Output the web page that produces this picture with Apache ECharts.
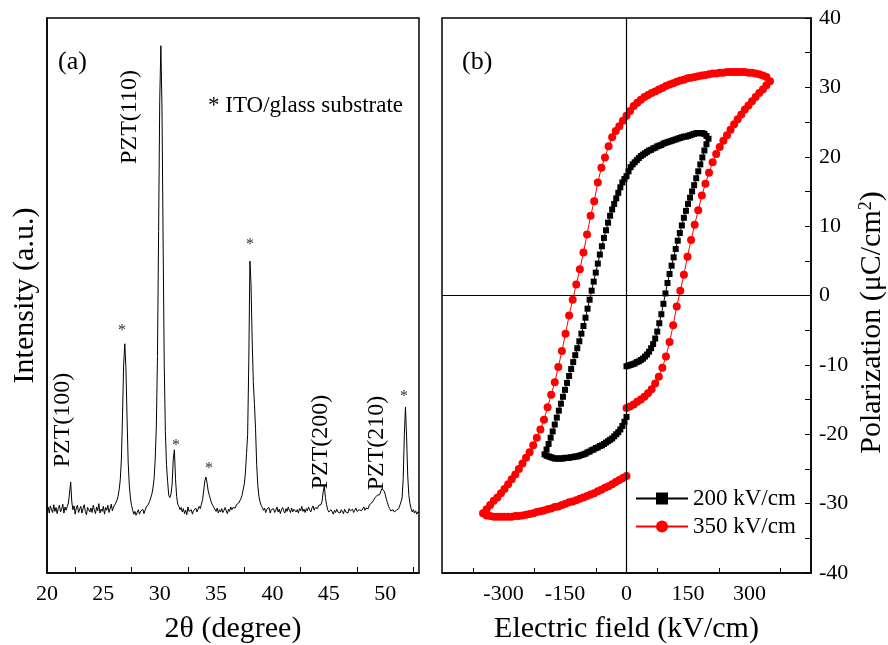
<!DOCTYPE html>
<html>
<head>
<meta charset="utf-8">
<title>PZT film: XRD and P-E loops</title>
<script src="https://cdn.jsdelivr.net/npm/echarts@6.0.0/dist/echarts.min.js"></script>
<style>
  html, body { margin: 0; padding: 0; background: #fff; }
  #chart { width: 888px; height: 645px; }
</style>
</head>
<body>
<div id="chart"></div>
<script>
// ---- (a) XRD pattern: start / step scan, intensity in a.u. ----
const thetaStart = 20;
const thetaStep = 0.1;
const xrdIntensity = [
  11.2, 11.9, 10.8, 12.1, 11.4, 10.9, 12.3, 11.1, 11.8, 10.7, // 20
  11.6, 12.2, 11.0, 11.5, 12.4, 10.8, 11.9, 11.3, 12.0, 12.6, // 21
  14.4, 16.4, 12.8, 11.4, 12.1, 10.6, 11.7, 12.2, 10.9, 11.5, // 22
  12.0, 10.8, 11.6, 12.3, 11.1, 10.5, 11.8, 12.1, 11.0, 11.7, // 23
  10.9, 12.2, 11.4, 10.7, 11.9, 11.2, 12.5, 10.8, 11.5, 11.1, // 24
  12.0, 10.6, 11.8, 11.3, 12.2, 10.9, 11.6, 12.4, 11.2, 11.9, // 25
  12.2, 12.6, 13.1, 13.8, 15.0, 16.8, 20.5, 28.5, 37.5, 41.3, // 26
  37.0, 28.0, 20.0, 15.8, 13.5, 12.2, 11.3, 10.6, 11.1, 10.4, // 27
  10.9, 11.4, 10.6, 11.1, 10.8, 11.5, 10.7, 11.3, 11.9, 11.6, // 28
  12.4, 12.9, 13.5, 14.2, 15.3, 17.0, 20.5, 26.5, 39.0, 61.5, // 29
  85.0, 95.0, 84.0, 60.0, 37.5, 25.5, 19.5, 16.5, 14.0, 13.6, // 30
  14.2, 16.0, 20.5, 22.2, 17.0, 13.8, 12.4, 12.0, 11.4, 11.8, // 31
  11.0, 11.6, 10.7, 11.3, 10.5, 11.9, 11.1, 10.8, 11.4, 10.6, // 32
  11.2, 10.9, 11.7, 11.0, 11.5, 12.0, 11.6, 12.4, 13.2, 14.8, // 33
  16.6, 17.3, 16.2, 14.8, 14.0, 13.3, 12.6, 12.2, 11.8, 11.5, // 34
  11.1, 11.7, 10.8, 11.4, 11.0, 11.6, 10.9, 11.3, 11.8, 11.2, // 35
  10.7, 11.5, 11.1, 11.9, 11.4, 11.8, 12.0, 11.7, 12.3, 12.1, // 36
  12.6, 12.9, 13.4, 14.0, 15.0, 16.0, 18.0, 21.5, 25.0, 38.0, // 37
  56.2, 52.0, 42.0, 34.5, 30.5, 26.0, 19.5, 15.8, 13.8, 12.8, // 38
  12.2, 11.8, 11.3, 11.7, 10.9, 11.5, 11.2, 11.8, 10.8, 11.4, // 39
  11.1, 11.6, 10.9, 11.3, 11.9, 11.0, 11.5, 10.7, 11.4, 11.8, // 40
  11.2, 10.8, 11.6, 11.1, 11.9, 11.3, 10.9, 11.7, 11.0, 11.5, // 41
  11.8, 11.0, 11.4, 10.8, 11.6, 11.2, 12.0, 11.1, 11.5, 10.9, // 42
  11.6, 11.2, 11.9, 11.4, 11.0, 11.7, 12.1, 11.3, 11.8, 12.0, // 43
  11.6, 12.2, 11.9, 12.3, 12.9, 14.6, 15.7, 13.6, 12.3, 11.4, // 44
  11.0, 10.7, 11.4, 11.1, 10.6, 11.3, 10.9, 11.5, 11.0, 11.2, // 45
  10.8, 11.4, 11.1, 10.7, 11.5, 11.0, 11.3, 10.8, 11.6, 11.2, // 46
  11.0, 11.5, 10.9, 11.3, 11.7, 11.1, 10.8, 11.4, 11.6, 11.2, // 47
  11.5, 11.9, 11.3, 11.7, 12.0, 11.6, 12.3, 12.1, 12.6, 12.9, // 48
  13.2, 13.6, 13.4, 14.0, 14.3, 14.1, 14.6, 15.2, 15.5, 14.8, // 49
  14.2, 13.3, 12.7, 12.0, 11.6, 11.2, 10.9, 11.4, 11.0, 10.8, // 50
  11.3, 11.0, 11.6, 12.2, 12.8, 13.5, 17.0, 25.0, 29.9, 24.5, // 51
  17.5, 14.0, 12.5, 11.6, 11.0, 11.4, 10.8, 11.2, 10.6, 11.0, // 52
  10.9                                                        // 53
];
const thetaLabels = [20, 25, 30, 35, 40, 45, 50];
const thetaTicks = [22.5, 27.5, 32.5, 37.5, 42.5, 47.5, 52.5];

// ---- (b) P-E loops, field in kV/cm, polarization in uC/cm2 ----
// each branch is indexed by |E| on its field grid
const field200 = [0, 5, 10, 15, 20, 25, 30, 35, 40, 45, 50, 55, 60, 65, 70, 75, 80, 85, 90, 95,
  100, 105, 110, 115, 120, 125, 130, 135, 140, 145, 150, 155, 160, 165, 170, 175, 180, 185, 190, 195, 200];
const rise200 = [-10.2, -10.1, -10.0, -9.9, -9.8, -9.6, -9.5, -9.3, -9.1, -8.8, -8.5, -8.1, -7.6, -7.0, -6.2,
  -5.2, -4.0, -2.7, -1.2, 0.3, 1.8, 3.1, 4.3, 5.5, 6.7, 7.9, 9.0, 10.1, 11.2, 12.2, 13.2, 14.1, 15.0, 15.9,
  16.9, 17.9, 18.9, 19.9, 20.9, 21.8, 22.6];
const upper200 = [17.2, 17.9, 18.5, 18.9, 19.2, 19.5, 19.8, 20.1, 20.3, 20.5, 20.7, 20.9, 21.0, 21.2, 21.3,
  21.5, 21.6, 21.7, 21.9, 22.0, 22.1, 22.2, 22.3, 22.4, 22.5, 22.6, 22.7, 22.8, 22.9, 22.9, 23.0, 23.1, 23.2,
  23.3, 23.4, 23.4, 23.4, 23.4, 23.3, 23.0, 22.6];
const fall200 = [17.2, 16.8, 16.3, 15.6, 14.8, 14.0, 13.2, 12.4, 11.5, 10.5, 9.4, 8.3, 7.1, 5.9, 4.6, 3.3,
  2.0, 0.7, -0.6, -1.9, -3.2, -4.4, -5.5, -6.6, -7.6, -8.6, -9.6, -10.6, -11.6, -12.6, -13.6, -14.6, -15.6,
  -16.6, -17.6, -18.6, -19.6, -20.5, -21.4, -22.2, -22.9];
const lower200 = [-17.5, -18.2, -18.8, -19.3, -19.7, -20.0, -20.3, -20.6, -20.8, -21.0, -21.2, -21.4, -21.6,
  -21.7, -21.9, -22.0, -22.2, -22.3, -22.5, -22.6, -22.8, -22.9, -23.0, -23.1, -23.2, -23.2, -23.3, -23.3,
  -23.4, -23.4, -23.4, -23.5, -23.5, -23.5, -23.5, -23.5, -23.4, -23.3, -23.2, -23.1, -22.9];

const field350 = [0, 8.75, 17.5, 26.25, 35, 43.75, 52.5, 61.25, 70, 78.75, 87.5, 96.25, 105, 113.75, 122.5,
  131.25, 140, 148.75, 157.5, 166.25, 175, 183.75, 192.5, 201.25, 210, 218.75, 227.5, 236.25, 245, 253.75,
  262.5, 271.25, 280, 288.75, 297.5, 306.25, 315, 323.75, 332.5, 341.25, 350];
const rise350 = [-16.2, -16.0, -15.7, -15.3, -15.0, -14.6, -14.1, -13.5, -12.7, -11.7, -10.4, -8.8, -6.7,
  -4.3, -1.6, 0.7, 3.0, 5.6, 8.0, 10.2, 12.3, 14.4, 16.1, 17.7, 19.2, 20.4, 21.4, 22.3, 23.1, 23.9, 24.7,
  25.4, 26.1, 26.8, 27.4, 28.0, 28.6, 29.2, 29.7, 30.3, 30.9];
const upper350 = [25.9, 26.6, 27.3, 27.8, 28.2, 28.6, 28.9, 29.2, 29.4, 29.7, 29.9, 30.2, 30.4, 30.6, 30.8,
  31.0, 31.1, 31.3, 31.4, 31.5, 31.6, 31.7, 31.8, 31.9, 32.0, 32.0, 32.1, 32.1, 32.2, 32.2, 32.2, 32.2, 32.2,
  32.2, 32.1, 32.1, 32.0, 31.9, 31.7, 31.5, 30.9];
const fall350 = [25.9, 25.2, 24.4, 23.7, 22.8, 21.5, 19.9, 18.4, 16.3, 13.6, 11.5, 8.8, 6.2, 3.8, 1.6, -0.6,
  -2.9, -5.5, -8.0, -10.3, -12.5, -14.3, -16.1, -17.9, -19.3, -20.5, -21.6, -22.6, -23.4, -24.2, -25.0,
  -25.8, -26.5, -27.2, -27.9, -28.5, -29.1, -29.6, -30.2, -30.8, -31.4];
const lower350 = [-26.0, -26.3, -26.6, -26.9, -27.2, -27.5, -27.7, -28.0, -28.2, -28.5, -28.7, -28.9, -29.1,
  -29.3, -29.5, -29.7, -29.8, -30.0, -30.2, -30.4, -30.5, -30.7, -30.8, -31.0, -31.1, -31.2, -31.4, -31.5,
  -31.6, -31.7, -31.8, -31.8, -31.9, -31.9, -31.9, -31.9, -31.9, -31.9, -31.8, -31.7, -31.4];

const fieldLabels = [-300, -150, 0, 150, 300];
const fieldTicks = [-375, -225, -75, 75, 225, 375];

// 0 -> +Emax -> 0 -> -Emax -> 0, skipping the repeated turning points
function loopPoints(grid, rise, upper, fall, lower) {
  const pts = [];
  const n = grid.length;
  for (let i = 0; i < n; i++) pts.push([grid[i], rise[i]]);
  for (let i = n - 2; i >= 0; i--) pts.push([grid[i], upper[i]]);
  for (let i = 1; i < n; i++) pts.push([-grid[i], fall[i]]);
  for (let i = n - 2; i >= 0; i--) pts.push([-grid[i], lower[i]]);
  return pts;
}

const xrdData = xrdIntensity.map((v, i) => [+(thetaStart + i * thetaStep).toFixed(2), v]);

const serif = "'Liberation Serif', 'Times New Roman', serif";

function label(text, x, y, size, opts) {
  opts = opts || {};
  return {
    type: 'text',
    x: x,
    y: y,
    rotation: opts.rotate ? Math.PI / 2 : 0,
    silent: true,
    style: {
      text: text,
      fill: opts.color || '#000',
      font: size + 'px ' + serif,
      align: opts.align || 'left',
      verticalAlign: 'middle'
    }
  };
}

const chart = echarts.init(document.getElementById('chart'), null, { renderer: 'canvas' });

chart.setOption({
  animation: false,
  backgroundColor: '#fff',
  textStyle: { fontFamily: serif, color: '#000' },
  grid: [
    { left: 47, top: 18, width: 372, height: 555, outerBoundsMode: 'none',
      show: true, borderColor: '#000', borderWidth: 1.5 },
    { left: 442, top: 18, width: 369, height: 555, outerBoundsMode: 'none',
      show: true, borderColor: '#000', borderWidth: 1.5 }
  ],
  xAxis: [
    {
      gridIndex: 0,
      type: 'value',
      min: 20,
      max: 53,
      interval: 5,
      name: '2θ (degree)',
      nameLocation: 'middle',
      nameGap: 41,
      nameTextStyle: { fontSize: 30, fontFamily: serif, color: '#000' },
      axisLine: { lineStyle: { color: '#000', width: 1.5 } },
      axisTick: { show: true, inside: true, length: 6, customValues: thetaTicks, lineStyle: { color: '#000' } },
      axisLabel: { customValues: thetaLabels, fontSize: 22, fontFamily: serif, color: '#000', margin: 10 },
      splitLine: { show: false }
    },
    {
      gridIndex: 1,
      type: 'value',
      min: -450,
      max: 450,
      interval: 150,
      name: 'Electric field (kV/cm)',
      nameLocation: 'middle',
      nameGap: 41,
      nameTextStyle: { fontSize: 30, fontFamily: serif, color: '#000' },
      axisLine: { onZero: false, lineStyle: { color: '#000', width: 1.5 } },
      axisTick: { show: true, inside: true, length: 5, customValues: fieldTicks, lineStyle: { color: '#000' } },
      axisLabel: { customValues: fieldLabels, fontSize: 22, fontFamily: serif, color: '#000', margin: 10 },
      splitLine: { show: false }
    }
  ],
  yAxis: [
    {
      gridIndex: 0,
      type: 'value',
      min: 0,
      max: 100,
      name: 'Intensity (a.u.)',
      nameLocation: 'middle',
      nameRotate: 90,
      nameGap: 7,
      nameTextStyle: { fontSize: 30, fontFamily: serif, color: '#000' },
      axisLine: { show: true, lineStyle: { color: '#000', width: 1.5 } },
      axisTick: { show: false },
      axisLabel: { show: false },
      splitLine: { show: false }
    },
    {
      gridIndex: 1,
      type: 'value',
      position: 'right',
      min: -40,
      max: 40,
      interval: 10,
      name: 'Polarization (μC/cm{sup|2})',
      nameLocation: 'middle',
      nameRotate: 90,
      nameGap: 46,
      nameTextStyle: {
        fontSize: 30, fontFamily: serif, color: '#000', padding: [0, 54, 0, 0],
        rich: { sup: { fontSize: 18, fontFamily: serif, color: '#000', verticalAlign: 'top' } }
      },
      axisLine: { onZero: false, lineStyle: { color: '#000', width: 1.5 } },
      axisTick: { show: true, inside: true, length: 6, lineStyle: { color: '#000' } },
      minorTick: { show: true, splitNumber: 2, length: 6, lineStyle: { color: '#000' } },
      axisLabel: { fontSize: 22, fontFamily: serif, color: '#000', margin: 8 },
      splitLine: { show: false }
    }
  ],
  legend: {
    data: ['200 kV/cm', '350 kV/cm'],
    orient: 'vertical',
    left: 635,
    top: 487,
    padding: 0,
    itemWidth: 52,
    itemHeight: 15,
    itemGap: 5,
    textStyle: { fontSize: 23, fontFamily: serif, color: '#000' }
  },
  series: [
    {
      name: 'XRD',
      type: 'line',
      xAxisIndex: 0,
      yAxisIndex: 0,
      data: xrdData,
      showSymbol: false,
      lineStyle: { color: '#000', width: 1 },
      silent: true
    },
    {
      name: '200 kV/cm',
      type: 'line',
      xAxisIndex: 1,
      yAxisIndex: 1,
      data: loopPoints(field200, rise200, upper200, fall200, lower200),
      symbol: 'rect',
      symbolSize: 6,
      itemStyle: { color: '#000' },
      lineStyle: { color: '#000', width: 1 },
      markLine: {
        silent: true,
        symbol: ['none', 'none'],
        label: { show: false },
        lineStyle: { color: '#000', width: 1.2, type: 'solid' },
        data: [{ xAxis: 0 }, { yAxis: 0 }]
      }
    },
    {
      name: '350 kV/cm',
      type: 'line',
      xAxisIndex: 1,
      yAxisIndex: 1,
      data: loopPoints(field350, rise350, upper350, fall350, lower350),
      symbol: 'circle',
      symbolSize: 8,
      itemStyle: { color: '#ff0000' },
      lineStyle: { color: '#ff0000', width: 1 }
    }
  ],
  graphic: [
    label('(a)', 58, 62, 26),
    label('* ITO/glass substrate', 208, 106, 23),
    label('PZT(110)', 130, 117, 24, { rotate: true, align: 'center' }),
    label('PZT(100)', 63, 420, 24, { rotate: true, align: 'center' }),
    label('PZT(200)', 321, 442, 24, { rotate: true, align: 'center' }),
    label('PZT(210)', 377, 443, 24, { rotate: true, align: 'center' }),
    label('*', 122, 331, 16, { align: 'center', color: '#333' }),
    label('*', 176, 446, 16, { align: 'center', color: '#333' }),
    label('*', 209, 469, 16, { align: 'center', color: '#333' }),
    label('*', 250, 245, 16, { align: 'center', color: '#333' }),
    label('*', 404, 397, 16, { align: 'center', color: '#333' }),
    label('(b)', 462, 62, 26)
  ]
});
</script>
</body>
</html>
